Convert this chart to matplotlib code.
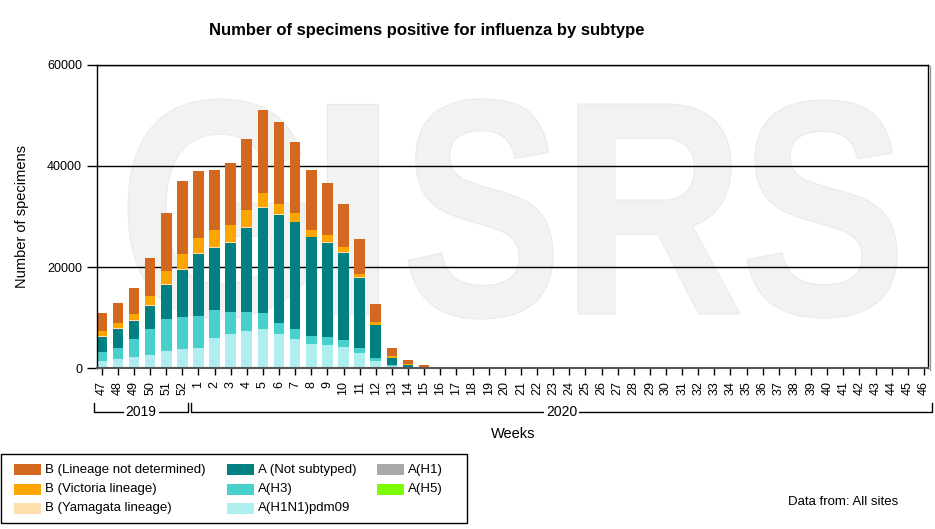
import matplotlib
matplotlib.use('Agg')
import matplotlib.pyplot as plt
import numpy as np
from matplotlib.patches import Rectangle, PathPatch
from matplotlib.textpath import TextPath
from matplotlib.font_manager import FontProperties
from matplotlib.transforms import Affine2D
from matplotlib.lines import Line2D

plt.rcParams['font.family'] = ['Liberation Sans', 'DejaVu Sans']

# weeks 47-52 of 2019, then 1-46 of 2020
weeks = [47, 48, 49, 50, 51, 52] + list(range(1, 47))

# values for weeks 47..17, later weeks are zero
pad = [0] * 29
pdm09 = [1450, 1850, 2250, 2650, 3400, 3800, 4000, 6000, 6750, 7350, 7750, 6750,
         5800, 4800, 4600, 4200, 3000, 1450, 450, 150, 30, 0, 0] + pad
h1 = [0] * 52
h3 = [1700, 2100, 3550, 5100, 6300, 6300, 6300, 5500, 4350, 3750, 3150, 2150,
      1950, 1550, 1550, 1400, 1000, 600, 200, 100, 30, 0, 0] + pad
h5 = [0] * 52
a_nst = [3020, 3900, 3450, 4600, 6750, 9300, 12300, 12350, 13650, 16600, 20700, 21300,
         21100, 19500, 18700, 17150, 13800, 6500, 1380, 400, 100, 0, 0] + pad
b_yam = [200, 170, 200, 200, 200, 200, 200, 200, 200, 200, 200, 200,
         150, 150, 150, 150, 150, 100, 80, 50, 0, 0, 0] + pad
b_vic = [1000, 950, 1300, 1700, 2500, 2900, 2900, 3250, 3300, 3300, 2750, 2150,
         1650, 1400, 1250, 1050, 600, 500, 300, 150, 100, 30, 0] + pad
b_nd = [3540, 3950, 5130, 7490, 11600, 14600, 13200, 11800, 12400, 14200, 16550, 16150,
        14150, 11850, 10450, 8450, 6950, 3550, 1580, 790, 400, 150, 80] + pad

series = [
    ('A(H1N1)pdm09', pdm09, '#AFEEEE'),
    ('A(H1)', h1, '#A9A9A9'),
    ('A(H3)', h3, '#48D1CC'),
    ('A(H5)', h5, '#7CFC00'),
    ('A (Not subtyped)', a_nst, '#008080'),
    ('B (Yamagata lineage)', b_yam, '#FFDEAD'),
    ('B (Victoria lineage)', b_vic, '#FFA500'),
    ('B (Lineage not determined)', b_nd, '#D2691E'),
]
colors = {name: c for name, vals, c in series}

W, H = 935, 529
fig = plt.figure(figsize=(W / 100, H / 100), dpi=100)
ax = fig.add_axes([96.7 / W, 1 - 368.3 / H, (928 - 96.7) / W, (368.3 - 64.7) / H])

x = np.arange(len(weeks))
bottom = np.zeros(len(weeks))
for name, vals, c in series:
    vals = np.array(vals, dtype=float)
    ax.bar(x, vals, 0.66, bottom=bottom, color=c, linewidth=0, zorder=2)
    bottom += vals

# watermark letters
fp = FontProperties(family='Liberation Sans', weight='bold')
boxes = [('G', 128, 305, 99, 319), ('I', 327, 378, 104, 314), ('S', 408, 553, 99, 319),
         ('R', 578, 740, 104, 314), ('S', 747, 897, 100, 318)]
for ch, x0, x1, y0, y1 in boxes:
    tp = TextPath((0, 0), ch, size=100, prop=fp)
    ext = tp.get_extents()
    tr = (Affine2D().translate(-ext.x0, -ext.y0)
          .scale((x1 - x0) / ext.width / W, (y1 - y0) / ext.height / H)
          .translate(x0 / W, 1 - y1 / H) + fig.transFigure)
    ax.add_patch(PathPatch(tp, transform=tr, fc='#f2f2f2', ec='#eaeaea', lw=0.8, zorder=0.1))

ax.set_xlim(-0.31, 51.25)
ax.set_ylim(0, 60000)
ax.set_yticks([0, 20000, 40000, 60000])
ax.set_axisbelow(True)
ax.yaxis.grid(True, color='black', lw=1)
ax.set_xticks(x)
ax.set_xticklabels([str(w) for w in weeks], rotation=90, fontsize=9)
ax.tick_params(axis='x', length=5, width=1, pad=4)
ax.tick_params(axis='y', length=7.5, width=1, pad=3, labelsize=9)
for s in ax.spines.values():
    s.set_color('black')
    s.set_linewidth(1)
ax.spines['bottom'].set_color('#555555')
ax.spines['bottom'].set_linewidth(1.5)

# shadow on the right of the frame
fig.add_artist(Line2D([929.5 / W, 929.5 / W], [1 - 369.5 / H, 1 - 66 / H],
                      transform=fig.transFigure, color='#999999', lw=1))

# year brackets
xt = ax.get_xaxis_transform()
for lo, hi, label in [(-0.48, 5.37, '2019'), (5.54, 51.49, '2020')]:
    ax.plot([lo, lo, hi, hi], [-0.115, -0.143, -0.143, -0.115], transform=xt,
            color='black', lw=1, clip_on=False)
    ax.text((lo + hi) / 2, -0.143, label, transform=xt, ha='center', va='center',
            fontsize=10, bbox=dict(fc='white', ec='none', pad=1.5), clip_on=False)

fig.text(427 / W, 1 - 30 / H, 'Number of specimens positive for influenza by subtype',
         ha='center', va='center', fontsize=12, fontweight='bold')
fig.text(22 / W, 1 - 216.5 / H, 'Number of specimens', rotation=90,
         ha='center', va='center', fontsize=10.5)
fig.text(512.7 / W, 1 - 434 / H, 'Weeks', ha='center', va='center', fontsize=10.5)

# legend box
fig.add_artist(Rectangle((1 / W, 1 - 523.3 / H), 466 / W, 69 / H, transform=fig.transFigure,
                         fc='white', ec='black', lw=1))
legend_cols = [
    (14, ['B (Lineage not determined)', 'B (Victoria lineage)', 'B (Yamagata lineage)']),
    (227, ['A (Not subtyped)', 'A(H3)', 'A(H1N1)pdm09']),
    (377, ['A(H1)', 'A(H5)']),
]
row_y = [469.7, 489, 508]
for sx, names in legend_cols:
    for name, yc in zip(names, row_y):
        fig.add_artist(Rectangle((sx / W, 1 - (yc + 5.5) / H), 27 / W, 11 / H,
                                 transform=fig.transFigure, fc=colors[name], ec='none'))
        fig.text((sx + 31) / W, 1 - yc / H, name, ha='left', va='center', fontsize=9.5)

fig.text(787.7 / W, 1 - 502 / H, 'Data from: All sites', ha='left', va='center', fontsize=9.5)

fig.savefig('out.png', dpi=100)
